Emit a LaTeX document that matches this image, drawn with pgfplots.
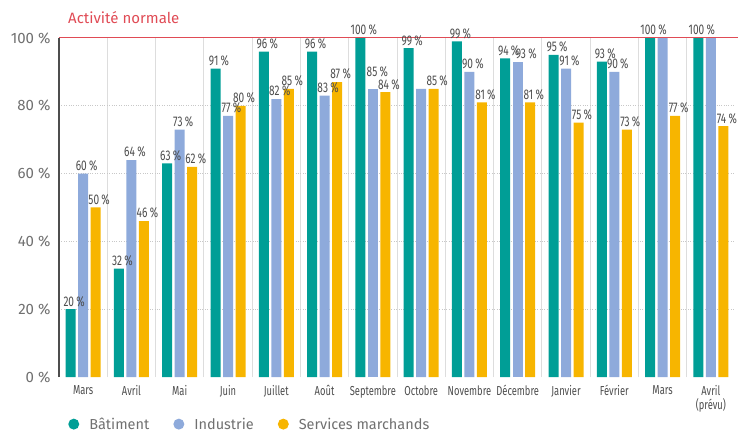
\documentclass[border=0pt]{standalone}
\usepackage{pgfplots}
\pgfplotsset{compat=1.18}
\usepackage{fontspec}
\setmainfont{Fira Sans}
\newfontfamily\cond{Fira Sans}[FakeStretch=0.72]
\usetikzlibrary{calc}

\definecolor{bat}{HTML}{009E96}
\definecolor{ind}{HTML}{8EAADB}
\definecolor{serv}{HTML}{F7B500}
\definecolor{rouge}{HTML}{E04B55}
\definecolor{txt}{HTML}{4D4D4D}
\definecolor{txtlight}{HTML}{707070}
\definecolor{sep}{HTML}{DDDDDD}
\definecolor{dots}{HTML}{C8C8C8}

\begin{document}
\begin{tikzpicture}
\begin{axis}[
    scale only axis,
    width=676bp, height=339bp,
    xmin=-0.5, xmax=13.5,
    ymin=0, ymax=100,
    clip=false,
    axis line style={draw=none},
    major tick length=0pt,
    ybar, bar width=10bp,
    /pgf/number format/assume math mode=true,
    xtick={0,...,13},
    xticklabels={Mars,Avril,Mai,Juin,Juillet,Août,Septembre,Octobre,Novembre,Décembre,Janvier,Février,Mars,{Avril\\(prévu)}},
    xticklabel style={font=\cond\fontsize{13bp}{14bp}\selectfont, text=txt, align=center, yshift=-5bp},
    ytick={0,20,...,100},
    yticklabel={\pgfmathprintnumber{\tick}\ \%},
    yticklabel style={font=\fontsize{15bp}{16bp}\selectfont, text=txtlight, xshift=-5bp},
    extra x ticks={0.5,1.5,...,12.5},
    extra x tick labels={},
    extra x tick style={grid=major, major grid style={draw=sep, line width=0.8bp}},
    extra y ticks={20,40,60,80},
    extra y tick labels={},
    extra y tick style={grid=major, major grid style={draw=dots, dotted, line width=1.2bp}},
    point meta=explicit,
    nodes near coords={\pgfmathprintnumber{\pgfplotspointmeta}\,\%},
    nodes near coords style={font=\cond\fontsize{14bp}{15bp}\selectfont, text=txt, xshift=3.5bp, inner sep=2.5bp},
    legend image code/.code={\fill[#1] (0bp,0bp) circle (5.5bp);},
    legend style={at={(axis description cs:0.009,-0.139)}, anchor=west, draw=none, fill=none,
        font=\fontsize{14.5bp}{16bp}\selectfont, text=txtlight,
        /tikz/every odd column/.append style={column sep=8bp},
        /tikz/every even column/.append style={column sep=22bp}},
    legend columns=-1,
]
\addplot[fill=bat, draw=none, bar shift=-12.5bp] coordinates {
    (0,20)[20] (1,32)[32] (2,63)[63] (3,91)[91] (4,96)[96] (5,96)[96] (6,100)[100]
    (7,97)[99] (8,99)[99] (9,94)[94] (10,95)[95] (11,93)[93] (12,100)[100] (13,100)[100]
};
\addlegendentry{Bâtiment}
\addplot[fill=ind, draw=none, bar shift=0bp] coordinates {
    (0,60)[60] (1,64)[64] (2,73)[73] (3,77)[77] (4,82)[82] (5,83)[83]
    (8,90)[90] (10,91)[91] (11,90)[90]
};
\addlegendentry{Industrie}
% Industrie: labels moved or hidden where they would collide
\addplot[fill=ind, draw=none, bar shift=0bp, nodes near coords style={yshift=9bp, xshift=1bp}, forget plot]
    coordinates {(6,85)[85]};
\addplot[fill=ind, draw=none, bar shift=0bp, nodes near coords style={xshift=5bp}, forget plot]
    coordinates {(9,93)[93]};
\addplot[fill=ind, draw=none, bar shift=0bp, nodes near coords={}, forget plot] coordinates {
    (7,85)[85] (12,100)[100] (13,100)[100]
};
\addplot[fill=serv, draw=none, bar shift=12.5bp] coordinates {
    (0,50)[50] (1,46)[46] (2,62)[62] (3,80)[80] (4,85)[85] (5,87)[87] (6,84)[84]
    (7,85)[85] (8,81)[81] (9,81)[81] (10,75)[75] (11,73)[73] (12,77)[77] (13,74)[74]
};
\addlegendentry{Services marchands}
\draw[txt, line width=1.2bp] (axis cs:-0.5,0) -- (axis cs:-0.5,100);
\draw[rouge, line width=1bp] (axis cs:-0.5,100) -- ($(axis cs:13.5,100)+(4bp,0)$);
\node[anchor=base west, text=rouge, font=\fontsize{15bp}{16bp}\selectfont, inner sep=0pt]
    at ($(axis cs:-0.5,100)+(9bp,14bp)$) {Activité normale};
\coordinate (O) at (axis cs:-0.5,0);
\end{axis}
\pgfresetboundingbox
\path ($(O)+(-59bp,-55bp)$) rectangle ($(O)+(679bp,377bp)$);
\end{tikzpicture}
\end{document}
